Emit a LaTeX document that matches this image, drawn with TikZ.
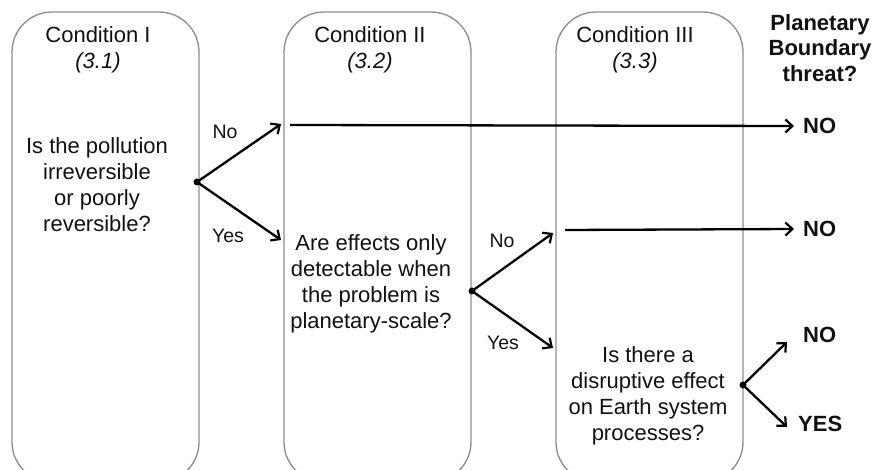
\documentclass[tikz,border=0pt]{standalone}
\usepackage{fontspec}
\setmainfont{Liberation Sans}
\usetikzlibrary{arrows.meta}
\definecolor{boxgray}{HTML}{8C8C8C}
\definecolor{ink}{HTML}{111111}
\tikzset{
  condbox/.style={draw=boxgray, line width=1.3pt, rounded corners=40pt},
  body/.style={align=center, text=ink, inner sep=0pt, font=\fontsize{22}{26}\selectfont},
  title/.style={align=center, text=ink, inner sep=0pt, font=\fontsize{22}{26}\selectfont},
  ans/.style={text=ink, inner sep=0pt, font=\fontsize{22}{25.5}\selectfont\bfseries},
  lab/.style={text=ink, inner sep=0pt, font=\fontsize{19.5}{21}\selectfont},
  branch/.style={line width=2.3pt, -{Straight Barb[length=7pt,width=13pt,line width=2.2pt]}},
  dotmark/.style={circle, fill=black, inner sep=0pt, minimum size=7pt}
}
\begin{document}
\begin{tikzpicture}[x=1pt,y=-1pt]
\useasboundingbox (0,0) rectangle (873,470);
\clip (0,0) rectangle (873,470);
% boxes
\draw[condbox] (12,12) rectangle (199,482);
\draw[condbox] (284,12) rectangle (471,482);
\draw[condbox] (556,12) rectangle (743,482);
% titles
\node[title] (t1) at (98,50) {Condition I\\\itshape (3.1)};
\node[title] (t2) at (370,50) {Condition II\\\itshape (3.2)};
\node[title] (t3) at (635,50) {Condition III\\\itshape (3.3)};
\node[ans, align=center] (pb) at (820,48) {Planetary\\Boundary\\threat?};
% questions
\node[body] (q1) at (97,185) {Is the pollution\\irreversible\\or poorly\\reversible?};
\node[body] (q2) at (371,284) {Are effects only\\detectable when\\the problem is\\planetary-scale?};
\node[body] (q3) at (648,396) {Is there a\\disruptive effect\\on Earth system\\processes?};
% answers
\node[ans, anchor=west] (a1) at (803,126) {NO};
\node[ans, anchor=west] (a2) at (803,229) {NO};
\node[ans, anchor=west] (a3) at (803,335) {NO};
\node[ans, anchor=west] (a4) at (798,424) {YES};
% branch points
\node[dotmark] (d1) at (197,182) {};
\node[dotmark] (d2) at (472,291) {};
\node[dotmark] (d3) at (743,385) {};
\coordinate (n1) at (281,124);
\coordinate (y1) at (281,240);
\coordinate (n2) at (553,233);
\coordinate (y2) at (553,348);
\coordinate (n3) at (787,342);
\coordinate (y3) at (787,427);
\coordinate (h1) at (290,125);
\coordinate (h2) at (565,230);
% arrows
\draw[branch] (d1.center) -- (n1);
\draw[branch] (d1.center) -- (y1);
\draw[branch] (d2.center) -- (n2);
\draw[branch] (d2.center) -- (y2);
\draw[branch] (d3.center) -- (n3);
\draw[branch] (d3.center) -- (y3);
\draw[branch] (h1) -- (a1.west -| 794,0);
\draw[branch] (h2) -- (a2.west -| 794,0);
% labels
\node[lab] (l1) at (225,132) {No};
\node[lab] (l2) at (228,236) {Yes};
\node[lab] (l3) at (502,241) {No};
\node[lab] (l4) at (503,343) {Yes};
\end{tikzpicture}
\end{document}
